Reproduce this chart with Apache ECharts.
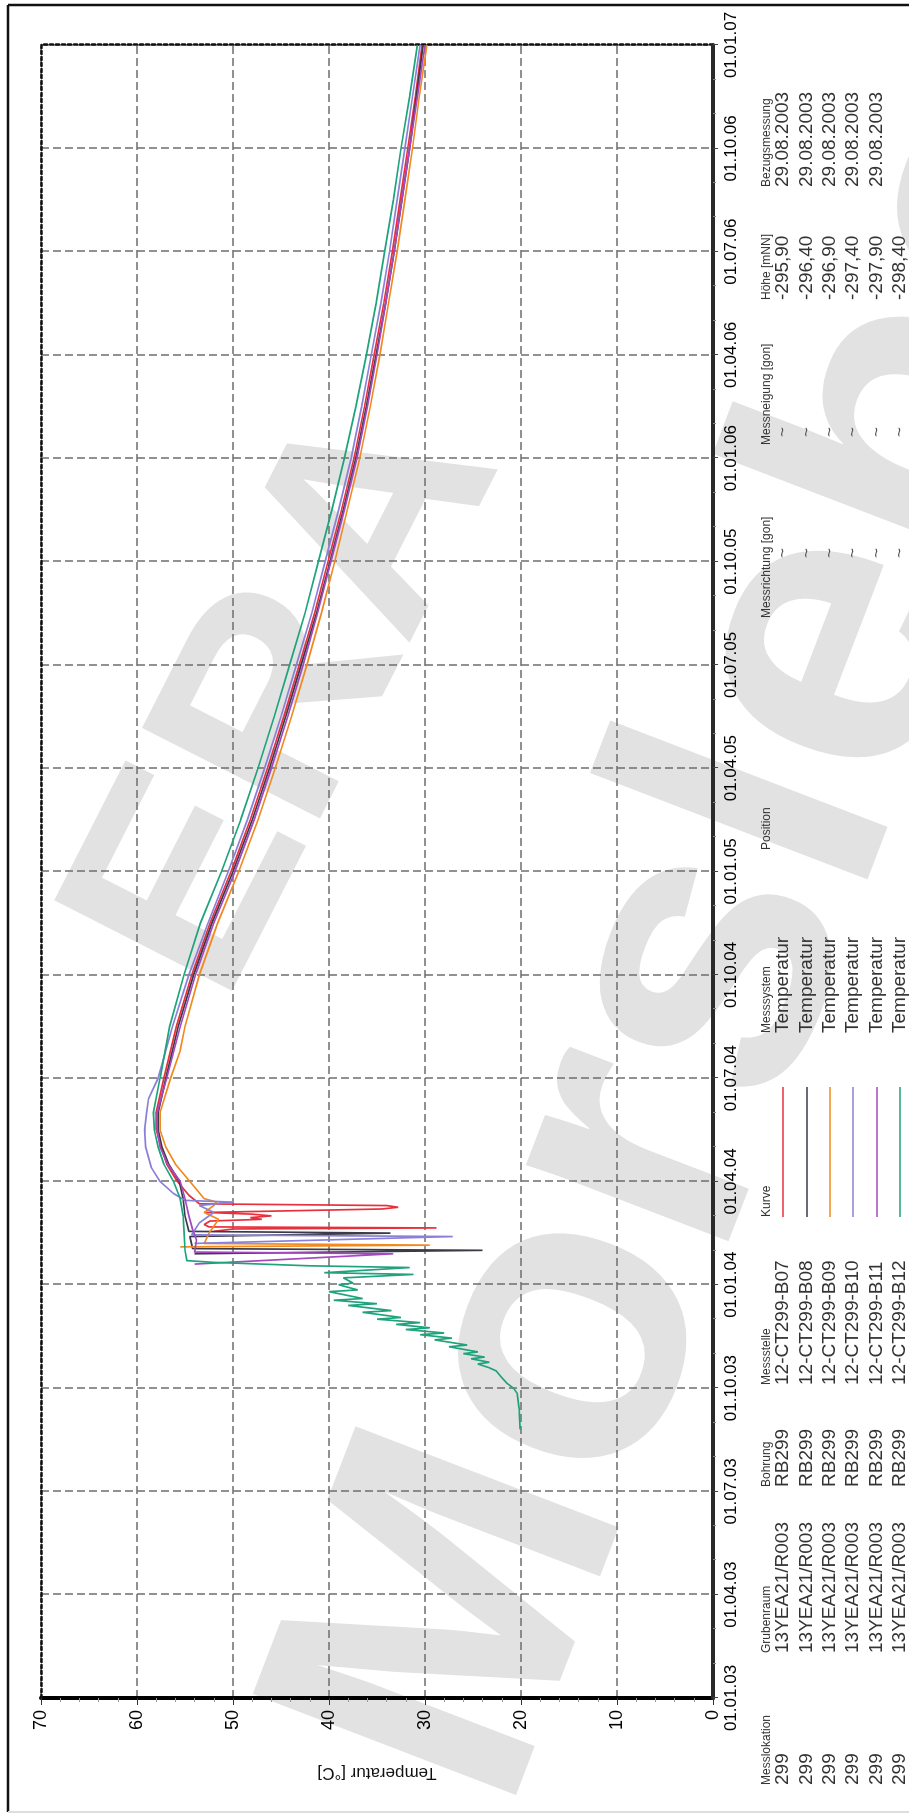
<!DOCTYPE html>
<html><head><meta charset="utf-8">
<script src="https://cdn.jsdelivr.net/npm/echarts@6/dist/echarts.min.js"></script>
<style>
html,body{margin:0;padding:0;background:#fff;}
#wrap{position:absolute;left:0;top:0;width:909px;height:1813px;overflow:hidden;background:#fff;}
#chart{position:absolute;left:0;top:1813px;width:1813px;height:909px;transform-origin:0 0;transform:rotate(-90deg);}
</style></head>
<body><div id="wrap"><div id="chart"></div></div>
<script>
// ---- data (x = months since 01.01.2003, y = temperature °C) ----
const dateTicks = ['01.01.03','01.04.03','01.07.03','01.10.03','01.01.04','01.04.04','01.07.04','01.10.04','01.01.05','01.04.05','01.07.05','01.10.05','01.01.06','01.04.06','01.07.06','01.10.06','01.01.07'];
const tempTicks = [0,10,20,30,40,50,60,70];
const seriesNames = ['12-CT299-B07','12-CT299-B08','12-CT299-B09','12-CT299-B10','12-CT299-B11','12-CT299-B12'];
const messlokation = ['299','299','299','299','299','299'];
const grubenraum = ['13YEA21/R003','13YEA21/R003','13YEA21/R003','13YEA21/R003','13YEA21/R003','13YEA21/R003'];
const bohrung = ['RB299','RB299','RB299','RB299','RB299','RB299'];
const messsystem = ['Temperatur','Temperatur','Temperatur','Temperatur','Temperatur','Temperatur'];
const messrichtung = ['~','~','~','~','~','~'];
const messneigung = ['~','~','~','~','~','~'];
const hoehe = ['-295,90','-296,40','-296,90','-297,40','-297,90','-298,40'];
const bezug = ['29.08.2003','29.08.2003','29.08.2003','29.08.2003','29.08.2003'];

const b07 = [[13.55,52.0],[13.62,50.0],[13.65,28.8],[13.68,52.5],[13.75,53.0],[13.85,52.4],[13.9,47.0],[13.95,48.2],[14.0,46.0],[14.05,48.0],[14.1,52.8],[14.2,34.5],[14.25,32.8],[14.3,34.0],[14.35,53.5],[14.6,54.6],[15.0,55.8],[15.5,56.9],[16.0,57.5],[16.5,58.0],[17.0,58.0],[18.0,57.2],[19.5,55.9],[21.0,54.3],[22.5,52.4],[24.0,50.2],[25.5,48.2],[27.0,46.4],[28.5,44.7],[30.0,43.1],[31.5,41.5],[33.0,40.1],[34.5,38.7],[36.0,37.4],[37.5,36.3],[39.0,35.3],[40.5,34.3],[42.0,33.4],[43.5,32.6],[45.0,31.8],[46.5,31.0],[48.0,30.3]];
const b08 = [[12.9,54.0],[13.0,24.0],[13.05,54.2],[13.4,54.5],[13.5,33.6],[13.55,54.6],[14.0,55.0],[14.5,55.2],[15.0,55.6],[15.5,56.7],[16.0,57.4],[16.5,57.8],[17.0,57.8],[18.0,57.0],[19.5,55.7],[21.0,54.1],[22.5,52.2],[24.0,50.0],[25.5,48.0],[27.0,46.2],[28.5,44.5],[30.0,42.9],[31.5,41.3],[33.0,39.9],[34.5,38.5],[36.0,37.2],[37.5,36.1],[39.0,35.1],[40.5,34.1],[42.0,33.2],[43.5,32.4],[45.0,31.6],[46.5,30.9],[48.0,30.2]];
const b09 = [[13.1,55.5],[13.15,29.5],[13.2,53.0],[13.5,52.5],[13.9,51.5],[14.1,53.0],[14.3,52.0],[14.4,51.7],[14.5,53.0],[15.0,54.5],[15.5,56.0],[16.0,57.0],[16.5,57.6],[17.0,57.6],[18.0,56.5],[18.8,55.5],[19.5,55.0],[21.0,53.5],[22.5,51.6],[24.0,49.4],[25.5,47.4],[27.0,45.6],[28.5,43.9],[30.0,42.3],[31.5,40.8],[33.0,39.4],[34.5,38.1],[36.0,36.8],[37.5,35.7],[39.0,34.7],[40.5,33.8],[42.0,32.9],[43.5,32.1],[45.0,31.3],[46.5,30.6],[48.0,29.8]];
const b10 = [[13.2,54.0],[13.4,27.1],[13.45,54.3],[13.8,53.5],[14.1,52.0],[14.3,53.5],[14.4,50.0],[14.45,55.0],[14.65,56.2],[15.0,57.6],[15.4,58.5],[16.0,59.1],[16.5,59.2],[17.0,59.0],[17.4,58.8],[18.0,57.8],[19.5,56.3],[21.0,54.6],[22.5,52.6],[24.0,50.5],[25.5,48.5],[27.0,46.7],[28.5,45.0],[30.0,43.4],[31.5,41.8],[33.0,40.4],[34.5,39.0],[36.0,37.7],[37.5,36.6],[39.0,35.6],[40.5,34.6],[42.0,33.7],[43.5,32.9],[45.0,32.1],[46.5,31.3],[48.0,30.5]];
const b11 = [[12.6,54.0],[12.9,33.3],[12.95,54.0],[13.3,53.8],[13.6,54.2],[14.0,54.6],[14.5,55.0],[15.0,55.5],[15.5,56.8],[16.0,57.6],[16.5,57.9],[17.0,57.9],[18.0,56.9],[19.5,55.5],[21.0,53.9],[22.5,52.0],[24.0,49.8],[25.5,47.8],[27.0,46.0],[28.5,44.3],[30.0,42.7],[31.5,41.2],[33.0,39.8],[34.5,38.4],[36.0,37.1],[37.5,36.0],[39.0,35.0],[40.5,34.1],[42.0,33.2],[43.5,32.4],[45.0,31.6],[46.5,30.8],[48.0,30.0]];
const b12 = [[7.8,20.1],[8.4,20.2],[8.85,20.4],[9.0,20.8],[9.15,21.5],[9.3,22.0],[9.5,22.6],[9.6,23.4],[9.7,24.5],[9.75,23.3],[9.85,25.2],[9.9,23.8],[10.0,26.0],[10.05,24.5],[10.2,27.5],[10.25,25.6],[10.4,29.0],[10.45,27.2],[10.55,30.5],[10.6,28.0],[10.7,32.0],[10.75,29.5],[10.85,33.0],[10.9,30.5],[11.0,35.0],[11.05,32.5],[11.2,36.5],[11.25,33.5],[11.4,38.0],[11.45,35.0],[11.55,39.5],[11.6,36.5],[11.8,40.0],[11.85,37.0],[12.0,39.0],[12.05,37.5],[12.2,38.5],[12.3,31.2],[12.35,40.5],[12.5,31.6],[12.55,42.0],[12.65,52.0],[12.7,54.8],[13.0,55.0],[13.5,55.1],[14.0,55.2],[14.5,55.5],[15.0,56.2],[15.5,57.2],[16.0,57.8],[16.5,58.2],[17.0,58.3],[18.0,57.6],[19.5,56.6],[21.0,55.1],[22.5,53.4],[24.0,51.2],[25.5,49.2],[27.0,47.4],[28.5,45.7],[30.0,44.1],[31.5,42.5],[33.0,41.1],[34.5,39.7],[36.0,38.4],[37.5,37.2],[39.0,36.1],[40.5,35.1],[42.0,34.2],[43.5,33.3],[45.0,32.5],[46.5,31.6],[48.0,30.8]];
const seriesData = [b07,b08,b09,b10,b11,b12];
const palette = ['#e8303c','#3a3a48','#f08a20','#8a80d8','#a448c0','#1fa37c'];

// ---- chart ----
const FONT = '"Liberation Sans", Arial, sans-serif';
const chart = echarts.init(document.getElementById('chart'), null, {renderer:'canvas', width:1813, height:909});

const rowsV = [783, 807, 830, 853, 877, 900];
const headV = 767;
const g = [];
function txt(u, v, s, size, color) {
  return {type:'text', x:u, y:v, silent:true, z:5,
    style:{text:s, fontSize:size, fontFamily:FONT, fill:color, align:'left', verticalAlign:'middle'}};
}
const cols = [
  {u:28,  head:'Messlokation', vals:messlokation},
  {u:160, head:'Grubenraum', vals:grubenraum},
  {u:326, head:'Bohrung', vals:bohrung},
  {u:428, head:'Messstelle', vals:seriesNames},
  {u:780, head:'Messsystem', vals:messsystem},
  {u:963, head:'Position', vals:null},
  {u:1195, head:'Messrichtung [gon]', vals:null},
  {u:1368, head:'Messneigung [gon]', vals:null},
  {u:1513, head:'Höhe [mNN]', vals:hoehe},
  {u:1626, head:'Bezugsmessung', vals:bezug}
];
cols.forEach(c => {
  g.push(txt(c.u, headV, c.head, 12, '#333'));
  if (c.vals) c.vals.forEach((s,i) => g.push(txt(c.u, rowsV[i], s, 19, '#333')));
});
messrichtung.forEach((s,i) => g.push(txt(1255, rowsV[i], s, 17, '#555')));
messneigung.forEach((s,i) => g.push(txt(1376, rowsV[i], s, 17, '#555')));
g.push(txt(596, headV, 'Kurve', 12, '#333'));
palette.forEach((c,i) => g.push({type:'line', silent:true, z:5,
  shape:{x1:596, y1:rowsV[i], x2:726, y2:rowsV[i]}, style:{stroke:c, lineWidth:1.5}}));
// frame
g.push({type:'line', silent:true, z:5, shape:{x1:1, y1:8, x2:1808, y2:8}, style:{stroke:'#111', lineWidth:2.5}});
g.push({type:'line', silent:true, z:5, shape:{x1:1808, y1:8, x2:1808, y2:909}, style:{stroke:'#111', lineWidth:2.5}});
g.push({type:'line', silent:true, z:5, shape:{x1:1, y1:8, x2:1, y2:909}, style:{stroke:'#ddd', lineWidth:2}});
// watermark
g.push({type:'text', x:1114, y:291, rotation:-27*Math.PI/180, silent:true, z:-10,
  style:{text:'ERA', fontSize:290, fontWeight:'bold', fontFamily:FONT, fill:'#e2e2e2', align:'center', verticalAlign:'middle'}});
g.push({type:'text', x:990, y:768, rotation:-21*Math.PI/180, silent:true, z:-10,
  style:{text:'Morsleben', fontSize:410, fontWeight:'bold', fontFamily:FONT, fill:'#e2e2e2', align:'center', verticalAlign:'middle'}});

const gridLine = {show:true, lineStyle:{color:'#6e6e6e', width:1.5, type:[8,4]}};
const option = {
  animation:false,
  backgroundColor:'transparent',
  grid:{left:115, right:45, top:41, bottom:196, containLabel:false},
  xAxis:[{
    type:'value', min:0, max:48, interval:3, position:'bottom',
    axisLine:{show:true, onZero:false, lineStyle:{color:'#2a2a2a', width:4}},
    axisTick:{show:true, length:5, lineStyle:{color:'#444', width:1}},
    minorTick:{show:true, splitNumber:3, length:3, lineStyle:{color:'#888'}},
    axisLabel:{margin:10, fontSize:17, fontFamily:FONT, color:'#000', showMinLabel:true, showMaxLabel:true,
      formatter:v => dateTicks[Math.round(v/3)]},
    splitLine:gridLine
  },{
    type:'value', min:0, max:48, position:'top',
    axisLine:{show:true, onZero:false, lineStyle:{color:'#111', width:2.5, type:[3,3]}},
    axisTick:{show:false}, axisLabel:{show:false}, splitLine:{show:false}
  }],
  yAxis:[{
    type:'value', min:0, max:70, interval:10, position:'left',
    name:'Temperatur [°C]', nameLocation:'middle', nameGap:66, nameRotate:90,
    nameTextStyle:{fontSize:17, fontFamily:FONT, color:'#111'},
    axisLine:{show:true, onZero:false, lineStyle:{color:'#000', width:4}},
    axisTick:{show:true, length:7, lineStyle:{color:'#333', width:1}},
    minorTick:{show:true, splitNumber:5, length:4, lineStyle:{color:'#999'}},
    axisLabel:{margin:12, fontSize:18, fontFamily:FONT, color:'#000', formatter:v => String(tempTicks[Math.round(v/10)])},
    splitLine:gridLine
  },{
    type:'value', min:0, max:70, position:'right',
    axisLine:{show:true, onZero:false, lineStyle:{color:'#111', width:2.5, type:[3,3]}},
    axisTick:{show:false}, axisLabel:{show:false}, splitLine:{show:false}
  }],
  graphic:{elements:g},
  series: seriesData.map((d,i) => ({
    name:seriesNames[i], type:'line', data:d, xAxisIndex:0, yAxisIndex:0,
    showSymbol:false, symbol:'none', z:3, clip:true,
    lineStyle:{color:palette[i], width:1.7}, itemStyle:{color:palette[i]}
  }))
};
chart.setOption(option);
</script></body></html>
